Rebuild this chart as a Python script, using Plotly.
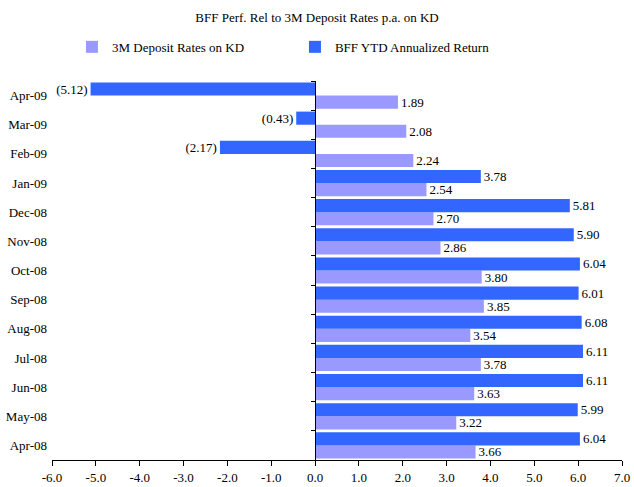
import plotly.graph_objects as go

months = ["Apr-08", "May-08", "Jun-08", "Jul-08", "Aug-08", "Sep-08", "Oct-08",
          "Nov-08", "Dec-08", "Jan-09", "Feb-09", "Mar-09", "Apr-09"]
bff_return = [6.04, 5.99, 6.11, 6.11, 6.08, 6.01, 6.04, 5.90, 5.81, 3.78, -2.17, -0.43, -5.12]
deposit_rate = [3.66, 3.22, 3.63, 3.78, 3.54, 3.85, 3.80, 2.86, 2.70, 2.54, 2.24, 2.08, 1.89]
x_ticks = [-6, -5, -4, -3, -2, -1, 0, 1, 2, 3, 4, 5, 6, 7]


def fmt(v):
    return f"({abs(v):.2f})" if v < 0 else f"{v:.2f}"


FONT = "Liberation Serif, Times New Roman, serif"
FS = 13

fig = go.Figure()
fig.add_trace(go.Bar(
    y=months, x=deposit_rate, orientation="h", name="3M Deposit Rates on KD",
    marker=dict(color="#9999FF", line=dict(width=0)),
    text=[fmt(v) for v in deposit_rate], textposition="outside",
    textfont=dict(family=FONT, size=FS, color="#000000"),
    constraintext="none", cliponaxis=False, hoverinfo="x+y",
))
fig.add_trace(go.Bar(
    y=months, x=bff_return, orientation="h", name="BFF YTD Annualized Return",
    marker=dict(color="#3366FF", line=dict(width=0)),
    text=[fmt(v) for v in bff_return], textposition="outside",
    textfont=dict(family=FONT, size=FS, color="#000000"),
    constraintext="none", cliponaxis=False, hoverinfo="x+y",
))

xmin, xmax = x_ticks[0], x_ticks[-1]
n = len(months)

fig.update_layout(
    width=634, height=487,
    margin=dict(l=52, r=12, t=81, b=27, pad=0, autoexpand=False),
    paper_bgcolor="white", plot_bgcolor="white",
    font=dict(family=FONT, size=FS, color="#000000"),
    title=dict(text="BFF Perf. Rel to 3M Deposit Rates p.a. on KD",
               x=0.5, xanchor="center", y=0.965, yanchor="middle",
               font=dict(family=FONT, size=FS, color="#000000")),
    barmode="group", bargap=0.1, bargroupgap=0,
    showlegend=True,
    legend=dict(orientation="h", x=0.035, xanchor="left", y=1.09, yanchor="middle",
                font=dict(family=FONT, size=FS), entrywidth=178, traceorder="normal",
                bgcolor="rgba(0,0,0,0)"),
    xaxis=dict(range=[xmin, xmax], tickvals=x_ticks,
               ticktext=[f"{v:.1f}" for v in x_ticks], automargin=False,
               showgrid=False, zeroline=False, showline=True, linecolor="black",
               linewidth=1, ticks="outside", ticklen=5, tickcolor="black",
               tickfont=dict(family=FONT, size=FS), fixedrange=True),
    yaxis=dict(type="category", categoryorder="array", categoryarray=months,
               range=[-0.5, n - 0.5], showgrid=False, zeroline=False, automargin=False,
               showline=False, ticks="", ticklabelstandoff=4,
               tickfont=dict(family=FONT, size=FS), fixedrange=True),
    yaxis2=dict(overlaying="y", anchor="free", automargin=False,
                position=(0 - xmin) / (xmax - xmin), side="left",
                range=[-0.5, n - 0.5],
                tickvals=[i - 0.5 for i in range(n + 1)],
                showticklabels=False, ticks="outside", ticklen=4,
                tickcolor="black", showline=True, linecolor="black", linewidth=1,
                showgrid=False, zeroline=False, fixedrange=True),
)
# invisible trace to activate yaxis2
fig.add_trace(go.Scatter(x=[0], y=[0], yaxis="y2", mode="markers",
                         marker=dict(opacity=0), showlegend=False, hoverinfo="skip"))

fig.write_html("out.html", config={"displayModeBar": False},
               post_script="document.body.style.margin='0px';document.body.style.overflow='hidden';")
